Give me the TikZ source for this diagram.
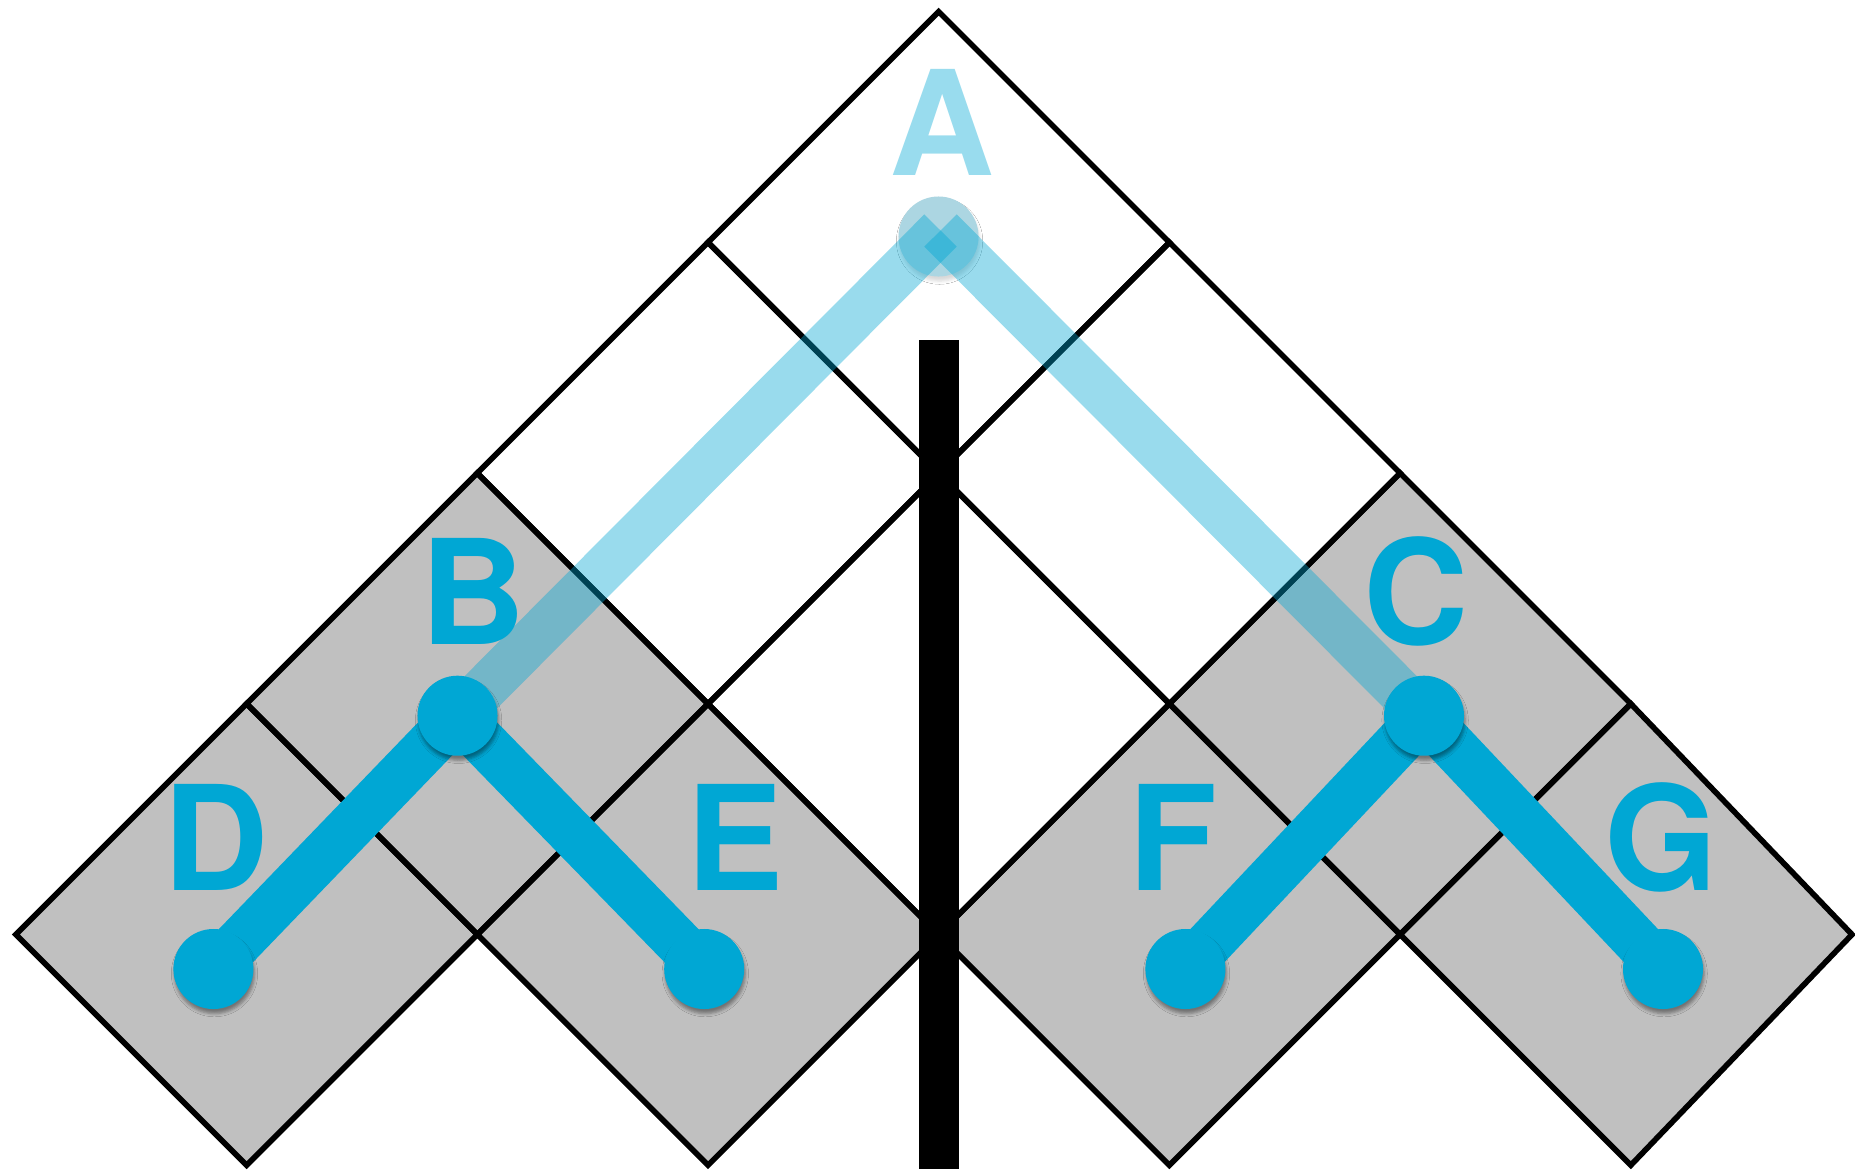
\documentclass[tikz,border=0pt]{standalone}
\usepackage{fontspec}
\setmainfont{TeX Gyre Heros}
\usetikzlibrary{shadows.blur}
\definecolor{nodeblue}{RGB}{0,167,212}
\definecolor{cellgray}{RGB}{192,192,192}
\definecolor{ghost}{RGB}{172,214,226}
\tikzset{
  cell/.style={fill=cellgray},
  whitecell/.style={fill=white},
  gridline/.style={draw=black,line width=1.6pt,line join=miter},
  band/.style={draw=nodeblue,line width=13.5pt},
  ghostband/.style={draw=nodeblue,draw opacity=0.4,line width=13pt},
  dot/.style={circle,fill=nodeblue,minimum size=0.8cm,inner sep=0pt,
    blur shadow={shadow xshift=0.3pt,shadow yshift=-1.3pt,shadow blur radius=0.9pt,shadow opacity=40}},
  ghostdot/.style={circle,fill=ghost,minimum size=0.8cm,inner sep=0pt,
    blur shadow={shadow xshift=0.3pt,shadow yshift=-1.3pt,shadow blur radius=0.9pt,shadow opacity=15}},
  lab/.style={text=nodeblue,font=\bfseries\fontsize{41.4}{50}\selectfont,inner sep=0pt,anchor=base},
  ghostlab/.style={lab,text=nodeblue!40!white},
}
\begin{document}
\begin{tikzpicture}[x=0.01cm,y=-0.01cm]
\clip (0,0) rectangle (1855,1169);
\fill[white] (0,0) rectangle (1855,1169);
% cells
\foreach \cx/\cy in {246.6/934.5,708/934.5,1169.4/934.5,477.3/703.8,1400.1/703.8}{
  \path[cell] (\cx-230.7,\cy) -- (\cx,\cy-230.7) -- (\cx+230.7,\cy) -- (\cx,\cy+230.7) -- cycle;}
\path[cell] (1400.1,934.5) -- (1630.8,703.8) -- (1852,934.5) -- (1630.8,1165.2) -- cycle;
\foreach \cx/\cy in {938.7/242.4,708/473.1,1169.4/473.1,938.7/703.8}{
  \path[whitecell] (\cx-230.7,\cy) -- (\cx,\cy-230.7) -- (\cx+230.7,\cy) -- (\cx,\cy+230.7) -- cycle;}
% outlines
\foreach \cx/\cy in {246.6/934.5,708/934.5,1169.4/934.5,477.3/703.8,1400.1/703.8,938.7/242.4,708/473.1,1169.4/473.1,938.7/703.8}{
  \path[gridline] (\cx-230.7,\cy) -- (\cx,\cy-230.7) -- (\cx+230.7,\cy) -- (\cx,\cy+230.7) -- cycle;}
\path[gridline] (1400.1,934.5) -- (1630.8,703.8) -- (1852,934.5) -- (1630.8,1165.2) -- cycle;
% black bar
\fill[black] (919.3,340) rectangle (959.3,1169);
% node positions
\coordinate (A) at (938.5,236.5);
\coordinate (Atip) at (940.5,230.5);
\coordinate (B) at (457.5,715.7);
\coordinate (C) at (1424,715.7);
\coordinate (D) at (213.4,969);
\coordinate (E) at (704.2,969);
\coordinate (F) at (1185.4,969);
\coordinate (G) at (1663,969);
% ghost node A
\node[ghostdot] (nA) at (A) {};
\draw[ghostband] (B) -- (Atip);
\draw[ghostband] (C) -- (Atip);
% tree edges
\draw[band] (B) -- (D);
\draw[band] (B) -- (E);
\draw[band] (C) -- (F);
\draw[band] (C) -- (G);
% nodes
\node[dot] (nB) at (B) {};
\node[dot] (nC) at (C) {};
\node[dot] (nD) at (D) {};
\node[dot] (nE) at (E) {};
\node[dot] (nF) at (F) {};
\node[dot] (nG) at (G) {};
% labels
\node[ghostlab] (lA) at (942.2,175.7) {A};
\node[lab] (lB) at (473,644) {B};
\node[lab] (lC) at (1415.7,644) {C};
\node[lab] (lD) at (215.8,890.7) {D};
\node[lab] (lE) at (735.5,890.7) {E};
\node[lab] (lF) at (1172.6,890.7) {F};
\node[lab] (lG) at (1661,890.7) {G};
\end{tikzpicture}
\end{document}
